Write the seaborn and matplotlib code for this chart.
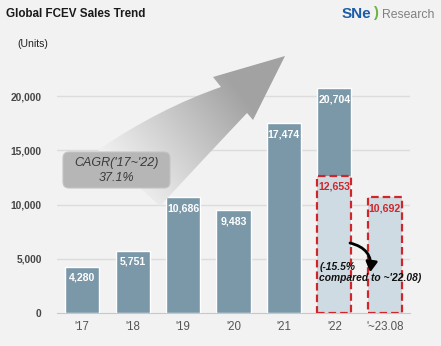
import numpy as np
import pandas as pd
import matplotlib
matplotlib.use("Agg")
import matplotlib.pyplot as plt
import seaborn as sns
from matplotlib.path import Path
from matplotlib.patches import PathPatch, FancyBboxPatch

# ---- data ----
years = ["'17", "'18", "'19", "'20", "'21", "'22", "'~23.08"]
annual_sales = [4280, 5751, 10686, 9483, 17474, 20704, None]
ytd_years = ["'22", "'~23.08"]
ytd_sales = [12653, 10692]
yticks = [0, 5000, 10000, 15000, 20000]

BG = "#f2f2f2"
DARK = "#7b98a9"
LIGHT = "#cfdbe2"
RED = "#d0262a"
FONT = ["Liberation Sans", "DejaVu Sans"]

sns.set_theme(style="white")
plt.rcParams["font.family"] = FONT

W, H = 441, 346
fig = plt.figure(figsize=(W / 100, H / 100), dpi=100, facecolor=BG)
ax = fig.add_axes([57 / W, 33 / H, 353 / W, 271.25 / H])
ax.set_facecolor("none")

df_all = pd.DataFrame({"year": years, "sales": annual_sales}).dropna()
df_ytd = pd.DataFrame({"year": ytd_years, "sales": ytd_sales})

sns.barplot(data=df_all, x="year", y="sales", order=years, color=DARK,
            saturation=1, width=0.675, ax=ax, zorder=3, errorbar=None)
sns.barplot(data=df_ytd, x="year", y="sales", order=years, color=LIGHT,
            saturation=1, width=0.675, ax=ax, zorder=4, errorbar=None,
            edgecolor=RED, linewidth=1.6, linestyle=(0, (3.4, 1.8)))

ax.set_xlim(-0.5, 6.5)
ax.set_ylim(0, 25000)
ax.set_yticks(yticks)
ax.set_yticklabels([f"{v:,}" for v in yticks], fontsize=7.4,
                   fontweight="bold", color="#474747")
ax.tick_params(axis="y", length=0, pad=11)
ax.tick_params(axis="x", length=0, pad=6, labelsize=8.3, labelcolor="#555555")
ax.set_xticks(np.arange(-0.5, 7.0, 1.0), minor=True)
ax.tick_params(axis="x", which="minor", length=4, color="#c8c8c8", width=0.8)
ax.set_xlabel("")
ax.set_ylabel("")
for s in ["top", "right", "left"]:
    ax.spines[s].set_visible(False)
ax.spines["bottom"].set_color("#c8c8c8")
ax.spines["bottom"].set_linewidth(0.8)
for v in yticks[1:]:
    ax.axhline(v, color="#dcdcdc", lw=1.0, zorder=1)

# value labels
for i, v in enumerate(annual_sales):
    if v is None:
        continue
    ax.annotate(f"{v:,}", (i, v), xytext=(0, -8), textcoords="offset points",
                ha="center", va="center", color="white", fontsize=7.6,
                fontweight="bold", zorder=6)
for y, v in zip(ytd_years, ytd_sales):
    i = years.index(y)
    ax.annotate(f"{v:,}", (i, v), xytext=(0, -8), textcoords="offset points",
                ha="center", va="center", color=RED, fontsize=7.6,
                fontweight="bold", zorder=6)

# curved black arrow & comparison note
ax.annotate("", xy=(5.71, 3750), xytext=(5.31, 6450),
            arrowprops=dict(arrowstyle="-|>,head_width=0.28,head_length=0.5",
                            connectionstyle="arc3,rad=-0.45", lw=2.0,
                            color="black", shrinkA=0, shrinkB=0), zorder=7)
ax.text(4.70, 4240, "(-15.5%", ha="left", va="center", fontsize=7.4,
        fontweight="bold", style="italic", color="#111111", zorder=7)
ax.text(4.70, 3200, "compared to ~'22.08)", ha="left", va="center",
        fontsize=7.4, fontweight="bold", style="italic", color="#111111",
        zorder=7)

# ---- overlay for decorations (pixel coordinates) ----
ov = fig.add_axes([0, 0, 1, 1], zorder=5)
ov.set_xlim(0, W)
ov.set_ylim(H, 0)
ov.axis("off")
ov.patch.set_alpha(0)

verts = [(285, 56), (213, 77), (221, 87),
         (160, 108), (98, 150),
         (160, 206),
         (212, 150), (247, 113),
         (253, 120), (285, 56)]
codes = [Path.MOVETO, Path.LINETO, Path.LINETO,
         Path.CURVE3, Path.CURVE3,
         Path.LINETO,
         Path.CURVE3, Path.CURVE3,
         Path.LINETO, Path.CLOSEPOLY]
arrow_patch = PathPatch(Path(verts, codes), facecolor="none", edgecolor="none")
ov.add_patch(arrow_patch)

gy, gx = np.mgrid[0:H, 0:W]
p0 = np.array([120.0, 185.0])
p1 = np.array([240.0, 92.0])
d = p1 - p0
t = ((gx - p0[0]) * d[0] + (gy - p0[1]) * d[1]) / (d @ d)
t = np.clip(t, 0, 1) ** 1.1
c0 = np.array([0xf2, 0xf2, 0xf2]) / 255
c1 = np.array([0xa2, 0xa2, 0xa2]) / 255
img = c0[None, None, :] * (1 - t[..., None]) + c1[None, None, :] * t[..., None]
im = ov.imshow(img, extent=(0, W, H, 0), interpolation="bilinear", zorder=1)
im.set_clip_path(arrow_patch)

box = FancyBboxPatch((63, 152), 107, 36,
                     boxstyle="round,pad=0,rounding_size=6",
                     facecolor="#b6b6b6", edgecolor="#c4c4c4", lw=0.8, zorder=2)
ov.add_patch(box)
ov.text(116.5, 163, "CAGR('17~'22)", ha="center", va="center", fontsize=9,
        style="italic", color="#3a3a3a", zorder=3)
ov.text(116.5, 178, "37.1%", ha="center", va="center", fontsize=9,
        style="italic", color="#3a3a3a", zorder=3)

# title, units, logo
ov.text(6, 14, "Global FCEV Sales Trend", ha="left", va="center",
        fontsize=8.4, fontweight="bold", color="#1a1a1a")
ov.text(17, 44, "(Units)", ha="left", va="center", fontsize=7.6,
        color="#222222")
ov.text(342, 14.5, "SNe", ha="left", va="center", fontsize=11,
        fontweight="bold", color="#1d5da8")
ov.text(373, 13.5, ")", ha="left", va="center", fontsize=10.5,
        fontweight="bold", color="#6cb345")
ov.text(382, 14.5, "Research", ha="left", va="center", fontsize=8.8,
        color="#808080")

fig.savefig("out.png", dpi=100, facecolor=BG)
